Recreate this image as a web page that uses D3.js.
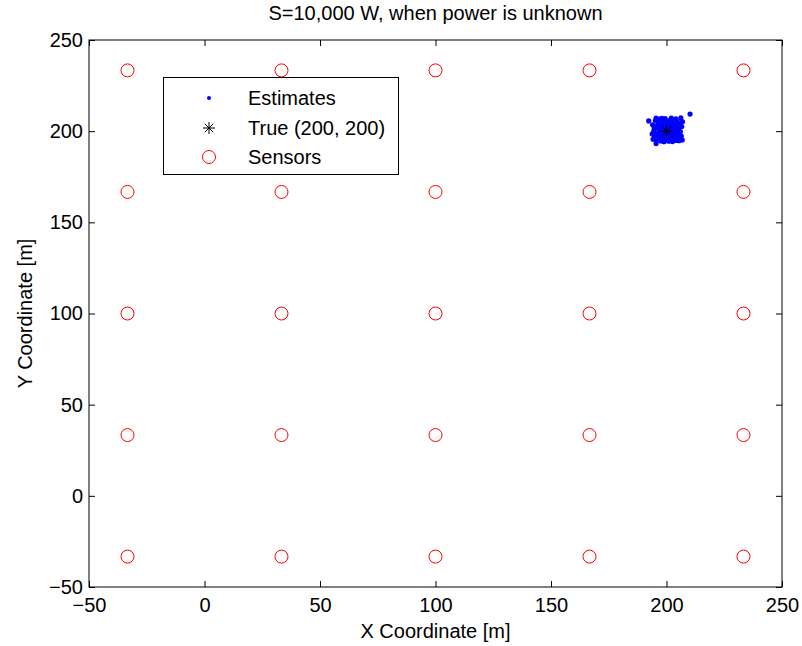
<!DOCTYPE html>
<html><head><meta charset="utf-8">
<script src="https://cdn.jsdelivr.net/npm/d3@7"></script>
<style>body{margin:0;background:#fff}svg{display:block}text{font-family:"Liberation Sans",Arial,sans-serif}</style>
</head><body><svg id="c" width="802" height="646"></svg>
<script>
const titleText = "S=10,000 W, when power is unknown";
const xLabel = "X Coordinate [m]";
const yLabel = "Y Coordinate [m]";
const xTicks = [-50, 0, 50, 100, 150, 200, 250];
const yTicks = [-50, 0, 50, 100, 150, 200, 250];
const sensorCoords = [-33.33, 33.33, 100, 166.67, 233.33];
const trueX = [200];
const trueY = [200];
const estX = [194.0,194.5,194.8,195.2,195.6,195.9,196.3,196.5,196.8,197.0,197.2,197.5,197.8,198.0,198.2,198.5,198.7,199.0,199.2,199.4,199.6,199.8,200.1,200.3,200.5,200.7,201.0,201.2,201.4,201.7,201.9,202.1,202.4,202.6,202.8,203.0,203.3,203.5,203.7,204.0,204.2,204.4,204.7,205.0,205.2,205.4,205.7,205.9,206.2,206.4,206.6,206.8,195.0,196.0,197.0,198.0,199.0,200.0,201.0,202.0,203.0,204.0,205.0,206.0,193.8,194.2,195.5,196.9,198.9,200.9,202.9,204.9,206.9,197.6,199.5,201.6,203.6,194.7,195.8,203.9,210.2,192.3,195.5];
const estY = [203.5,200.2,197.1,205.8,195.3,201.8,199.0,204.2,196.4,206.6,202.7,194.6,200.5,198.1,205.1,203.3,196.0,201.4,199.3,206.9,194.9,204.0,197.6,202.2,200.7,195.5,205.6,198.8,203.0,196.9,201.0,207.2,199.6,194.3,204.6,197.9,202.0,206.0,195.8,200.3,203.8,198.5,205.3,196.6,201.6,194.8,199.2,204.1,207.3,197.3,202.5,195.2,199.0,203.0,198.0,207.0,197.0,205.0,194.5,203.5,200.5,206.8,203.0,199.8,198.5,195.5,207.2,200.9,194.2,199.9,196.1,198.0,205.2,203.9,202.9,205.1,204.0,201.9,197.8,194.9,209.4,205.6,193.2];
const legendLabels = ["Estimates", "True (200, 200)", "Sensors"];

const svg = d3.select("#c");
const L = 89, R = 782, T = 40, B = 587;
const x = d3.scaleLinear().domain([-50, 250]).range([L, R]);
const y = d3.scaleLinear().domain([-50, 250]).range([B, T]);
const fs = 20;
const fmt = d => d < 0 ? "\u2212" + Math.abs(d) : d;

// axes (inward ticks, box)
const tl = 6;
svg.append("g").attr("transform", `translate(0,${B})`)
  .call(d3.axisBottom(x).tickValues(xTicks).tickSize(-tl).tickPadding(11).tickFormat(fmt))
  .call(g => { g.select(".domain").remove(); g.selectAll("text").attr("font-size", fs).attr("fill", "#000").attr("font-family", "Liberation Sans, Arial, sans-serif"); });
svg.append("g").attr("transform", `translate(0,${T})`)
  .call(d3.axisTop(x).tickValues(xTicks).tickSize(-tl).tickFormat(""))
  .call(g => g.select(".domain").remove());
svg.append("g").attr("transform", `translate(${L},0)`)
  .call(d3.axisLeft(y).tickValues(yTicks).tickSize(-tl).tickPadding(6).tickFormat(fmt))
  .call(g => { g.select(".domain").remove(); g.selectAll("text").attr("font-size", fs).attr("fill", "#000").attr("font-family", "Liberation Sans, Arial, sans-serif"); });
svg.append("g").attr("transform", `translate(${R},0)`)
  .call(d3.axisRight(y).tickValues(yTicks).tickSize(-tl).tickFormat(""))
  .call(g => g.select(".domain").remove());
svg.selectAll(".tick line").attr("stroke", "#000");
svg.append("rect").attr("x", L).attr("y", T).attr("width", R - L).attr("height", B - T)
  .attr("fill", "none").attr("stroke", "#000").attr("stroke-width", 1);

// sensors
const sensors = [];
sensorCoords.forEach(sy => sensorCoords.forEach(sx => sensors.push([sx, sy])));
svg.append("g").selectAll("circle").data(sensors).join("circle")
  .attr("cx", d => x(d[0])).attr("cy", d => y(d[1])).attr("r", 6.5)
  .attr("fill", "none").attr("stroke", "#ff0000").attr("stroke-width", 1);

// estimates
svg.append("g").selectAll("circle").data(estX.map((v, i) => [v, estY[i]])).join("circle")
  .attr("cx", d => x(d[0])).attr("cy", d => y(d[1])).attr("r", 2.6).attr("fill", "#0000ff");

// star marker
function star(g, cx, cy, s) {
  const p = d3.path();
  for (let k = 0; k < 4; k++) {
    const a = k * Math.PI / 4;
    p.moveTo(cx - s * Math.cos(a), cy - s * Math.sin(a));
    p.lineTo(cx + s * Math.cos(a), cy + s * Math.sin(a));
  }
  g.append("path").attr("d", p.toString()).attr("stroke", "#000").attr("stroke-width", 1).attr("fill", "none");
}
trueX.forEach((v, i) => star(svg, x(v), y(trueY[i]), 6));

// legend
const lg = svg.append("g");
lg.append("rect").attr("x", 163.5).attr("y", 77.5).attr("width", 235).attr("height", 97)
  .attr("fill", "#fff").attr("stroke", "#000").attr("stroke-width", 1);
const rows = [98, 128, 157];
lg.append("circle").attr("cx", 209).attr("cy", rows[0]).attr("r", 2).attr("fill", "#0000ff");
star(lg, 209, rows[1], 6);
lg.append("circle").attr("cx", 209).attr("cy", rows[2]).attr("r", 6.5).attr("fill", "none").attr("stroke", "#ff0000");
legendLabels.forEach((t, i) => lg.append("text").attr("x", 248).attr("y", rows[i]).attr("dy", "0.35em")
  .attr("font-size", fs).text(t));

// title and labels
svg.append("text").attr("x", (L + R) / 2).attr("y", 20).attr("text-anchor", "middle").attr("font-size", fs).text(titleText);
svg.append("text").attr("x", (L + R) / 2).attr("y", 638).attr("text-anchor", "middle").attr("font-size", fs).text(xLabel);
svg.append("text").attr("transform", `translate(32,${(T + B) / 2}) rotate(-90)`).attr("text-anchor", "middle").attr("font-size", fs).text(yLabel);
</script></body></html>
